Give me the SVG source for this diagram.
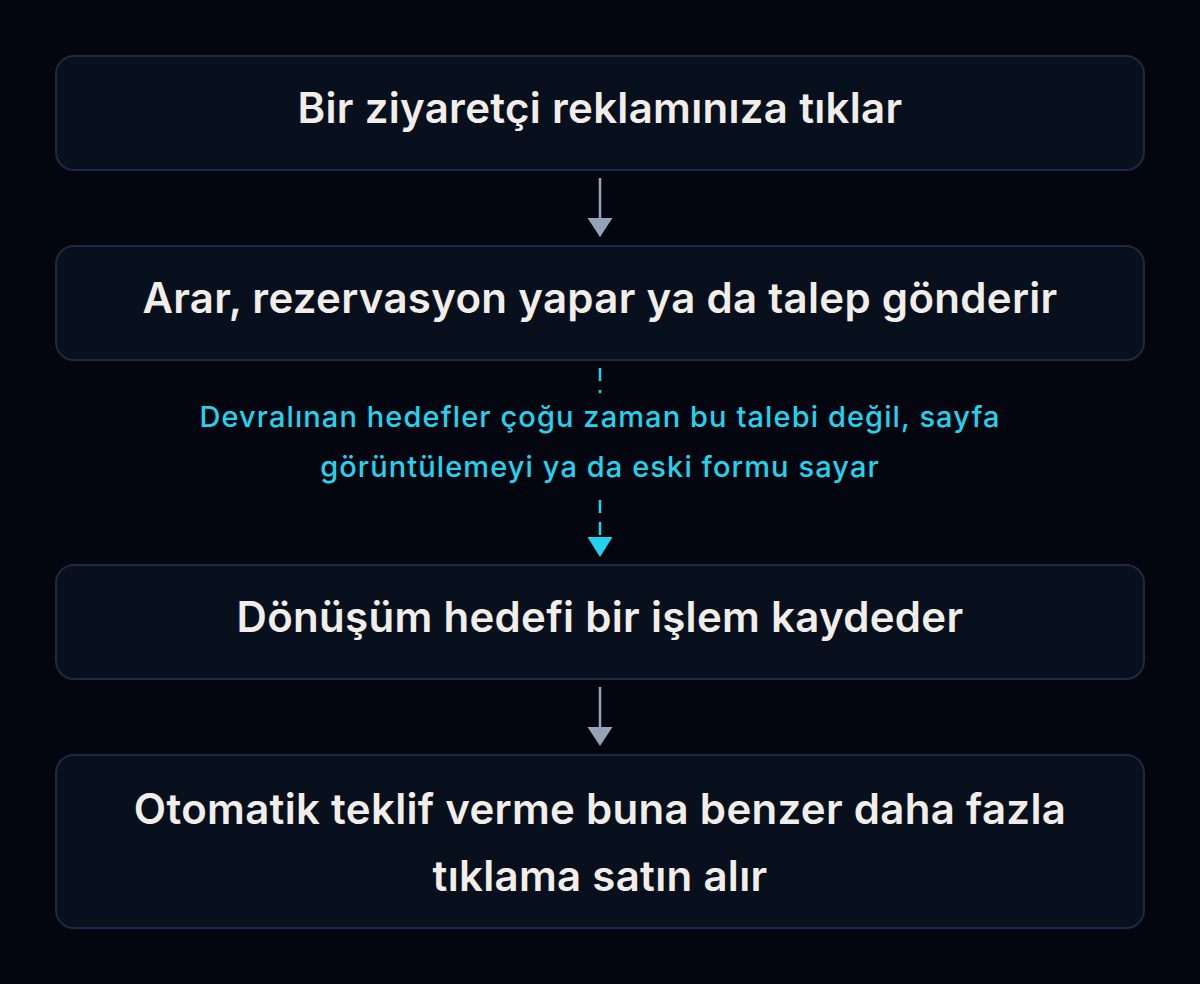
<svg xmlns="http://www.w3.org/2000/svg" width="1200" height="984" viewBox="0 0 1200 984">
  <defs>
    <style>
      .box { fill: #08101d; stroke: #1e2a44; stroke-width: 2; }
      .t { font-family: Inter, "Liberation Sans", sans-serif; font-weight: 600; font-size: 42px; letter-spacing: 0.3px; fill: #f1eee9; text-anchor: middle; }
      .lbl { font-family: Inter, "Liberation Sans", sans-serif; font-weight: 500; font-size: 29px; letter-spacing: 1.1px; fill: #22d3ee; text-anchor: middle; }
      .solid { stroke: #94a3b8; stroke-width: 2.5; fill: none; }
      .dash { stroke: #22d3ee; stroke-width: 2.5; fill: none; stroke-dasharray: 13 9; }
    </style>
  </defs>
  <rect x="0" y="0" width="1200" height="984" fill="#03060f"/>

  <g id="connectors">
    <line class="solid" x1="600" y1="178" x2="600" y2="220"/>
    <path d="M587.5,218 L612.5,218 L600,237 Z" fill="#94a3b8"/>
    <line class="dash" x1="600" y1="368" x2="600" y2="393"/>
    <line class="dash" x1="600" y1="500" x2="600" y2="538"/>
    <path d="M587.5,537 L612.5,537 L600,557 Z" fill="#22d3ee"/>
    <line class="solid" x1="600" y1="687" x2="600" y2="729"/>
    <path d="M587.5,727 L612.5,727 L600,746 Z" fill="#94a3b8"/>
    <g id="edge-label">
      <text class="lbl" x="600" y="427">Devralınan hedefler çoğu zaman bu talebi değil, sayfa</text>
      <text class="lbl" x="600" y="477">görüntülemeyi ya da eski formu sayar</text>
    </g>
  </g>

  <g id="node1">
    <rect class="box" x="56" y="56" width="1088" height="114" rx="18"/>
    <text class="t" x="600" y="123">Bir ziyaretçi reklamınıza tıklar</text>
  </g>
  <g id="node2">
    <rect class="box" x="56" y="246" width="1088" height="114" rx="18"/>
    <text class="t" x="600" y="313">Arar, rezervasyon yapar ya da talep gönderir</text>
  </g>
  <g id="node3">
    <rect class="box" x="56" y="565" width="1088" height="114" rx="18"/>
    <text class="t" x="600" y="632">Dönüşüm hedefi bir işlem kaydeder</text>
  </g>
  <g id="node4">
    <rect class="box" x="56" y="755" width="1088" height="173" rx="18"/>
    <text class="t" x="600" y="824">Otomatik teklif verme buna benzer daha fazla</text>
    <text class="t" x="600" y="891">tıklama satın alır</text>
  </g>
</svg>
